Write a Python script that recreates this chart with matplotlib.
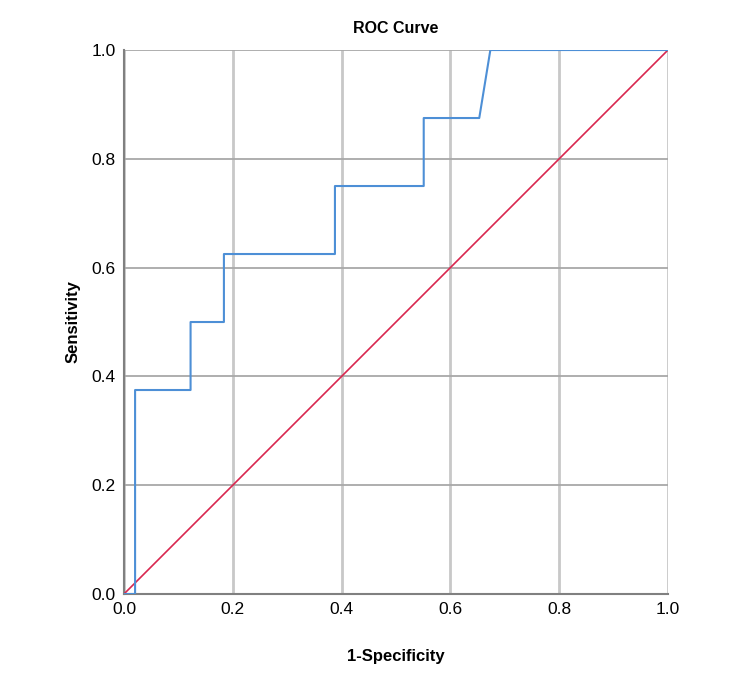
import matplotlib
matplotlib.use("Agg")
import matplotlib.pyplot as plt

plt.rcParams['font.family'] = ['Liberation Sans', 'DejaVu Sans']

# ROC 곡선 좌표 (1-특이도, 민감도)
fpr = [0.0, 0.0204, 0.0204, 0.1224, 0.1224, 0.1837, 0.1837, 0.3878, 0.3878,
       0.551, 0.551, 0.6531, 0.6735, 1.0]
tpr = [0.0, 0.0, 0.375, 0.375, 0.5, 0.5, 0.625, 0.625, 0.75,
       0.75, 0.875, 0.875, 1.0, 1.0]
ref_line = [0.0, 1.0]
ticks = [0.0, 0.2, 0.4, 0.6, 0.8, 1.0]

fig = plt.figure(figsize=(7.46, 6.76), dpi=100)
ax = fig.add_axes([0.1662, 0.1213, 0.7292, 0.8047])

ax.plot(ref_line, ref_line, color='#d9274f', lw=1.2, zorder=3)
ax.plot(fpr, tpr, color='#4d8fd6', lw=1.5, zorder=4)

ax.set_xlim(0, 1)
ax.set_ylim(0, 1)
ax.set_xticks(ticks)
ax.set_yticks(ticks)
ax.set_xticklabels([f'{t:.1f}' for t in ticks])
ax.set_yticklabels([f'{t:.1f}' for t in ticks])
ax.tick_params(length=0, labelsize=12.5, pad=6)

ax.xaxis.grid(True, color='#c8c8c8', lw=2)
ax.yaxis.grid(True, color='#a8a8a8', lw=1.3)
ax.set_axisbelow(True)
for s in ['top', 'right']:
    ax.spines[s].set_visible(False)
for s in ['left', 'bottom']:
    ax.spines[s].set_color('#808080')
    ax.spines[s].set_linewidth(1.5)

ax.set_title('ROC Curve', fontsize=11.5, fontweight='bold', pad=12)
ax.set_xlabel('1-Specificity', fontsize=12, fontweight='bold', labelpad=23)
ax.set_ylabel('Sensitivity', fontsize=12, fontweight='bold', labelpad=8)

fig.savefig('out.png', dpi=100)
